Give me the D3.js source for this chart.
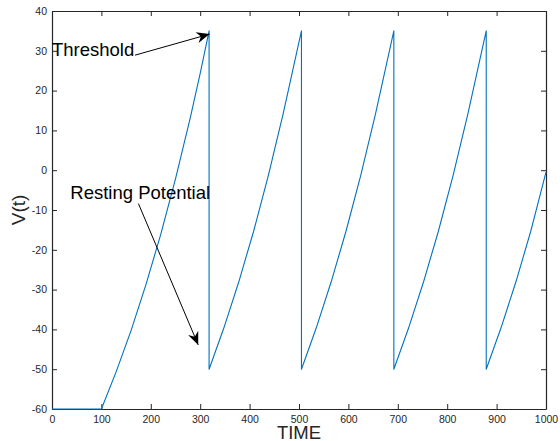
<!DOCTYPE html>
<html>
<head>
<meta charset="utf-8">
<script src="https://cdn.jsdelivr.net/npm/d3@7"></script>
<style>
  body { margin: 0; background: #fff; }
  text { font-family: "Liberation Sans", Arial, sans-serif; }
</style>
</head>
<body>
<div id="chart"></div>
<script>
var width = 560,
    height = 441,
    margin = {top: 11, right: 14, bottom: 32, left: 52};

// membrane potential (time, volts)
var time = [0, 100, 130, 160, 190, 220, 250, 280, 300, 318,
            318, 348, 378, 408, 438, 468, 490, 505,
            505, 535, 565, 595, 625, 655, 677, 692,
            692, 722, 752, 782, 812, 842, 864, 879,
            879, 909, 939, 969, 1000];
var voltage = [-60, -60, -50.6, -40.3, -28.8, -16.2, -2.2, 13.2, 24.3, 35,
               -50, -39.6, -28.1, -15.4, -1.3, 14.2, 26.6, 35,
               -50, -39.6, -28.1, -15.4, -1.3, 14.2, 26.6, 35,
               -50, -39.6, -28.1, -15.4, -1.3, 14.2, 26.6, 35,
               -50, -39.6, -28.1, -15.4, -0.5];

var xTicks = [0, 100, 200, 300, 400, 500, 600, 700, 800, 900, 1000];
var yTicks = [-60, -50, -40, -30, -20, -10, 0, 10, 20, 30, 40];

// annotation arrows: text anchor and arrow tip in data units
var annotations = [
  {label: "Threshold", tx: 0, ty: 28.6, from: [168, 28.9], to: [319, 34.2]},
  {label: "Resting Potential", tx: 37, ty: -7.3, from: [175, -8.4], to: [296, -43.9]}
];

var x = d3.scaleLinear().domain([0, 1000]).range([margin.left, width - margin.right]);
var y = d3.scaleLinear().domain([-60, 40]).range([height - margin.bottom, margin.top]);

var svg = d3.select("#chart").append("svg")
  .attr("width", width)
  .attr("height", height);

var axisColor = "#262626";

svg.append("defs").append("marker")
  .attr("id", "head")
  .attr("markerUnits", "userSpaceOnUse")
  .attr("viewBox", "-14 -6 15 12")
  .attr("refX", 0)
  .attr("refY", 0)
  .attr("markerWidth", 15)
  .attr("markerHeight", 12)
  .attr("orient", "auto")
  .append("path")
  .attr("d", "M0,0 L-13,-5.5 L-9,0 L-13,5.5 Z")
  .attr("fill", "#000");

// ticks point inward on all four sides (box on)
var gx = svg.append("g")
  .attr("transform", "translate(0," + y(-60) + ")")
  .call(d3.axisBottom(x).tickValues(xTicks).tickSizeInner(-5).tickSizeOuter(0)
    .tickPadding(6.5).tickFormat(d3.format("d")));
var gxTop = svg.append("g")
  .attr("transform", "translate(0," + y(40) + ")")
  .call(d3.axisTop(x).tickValues(xTicks).tickSizeInner(-5).tickSizeOuter(0).tickFormat(""));
var gy = svg.append("g")
  .attr("transform", "translate(" + x(0) + ",0)")
  .call(d3.axisLeft(y).tickValues(yTicks).tickSizeInner(-5).tickSizeOuter(0).tickPadding(5));
var gyRight = svg.append("g")
  .attr("transform", "translate(" + x(1000) + ",0)")
  .call(d3.axisRight(y).tickValues(yTicks).tickSizeInner(-5).tickSizeOuter(0).tickFormat(""));

[gx, gxTop, gy, gyRight].forEach(function(g) {
  g.selectAll(".domain").attr("stroke", axisColor).attr("stroke-width", 1.2);
  g.selectAll(".tick line").attr("stroke", axisColor).attr("stroke-width", 1);
  g.selectAll(".tick text")
    .attr("fill", axisColor)
    .style("font-size", "10.5px")
    .style("font-family", "'Liberation Sans', Arial, sans-serif");
});
gy.selectAll(".tick text").text(function(d) { return d; });

var line = d3.line()
  .x(function(d) { return x(d[0]); })
  .y(function(d) { return y(d[1]); });

svg.append("path")
  .datum(d3.zip(time, voltage))
  .attr("d", line)
  .attr("fill", "none")
  .attr("stroke", "#0072BD")
  .attr("stroke-width", 1.1)
  .attr("stroke-linejoin", "round");

// axis labels
svg.append("text")
  .attr("x", (x(0) + x(1000)) / 2)
  .attr("y", 439)
  .attr("text-anchor", "middle")
  .attr("fill", axisColor)
  .style("font-size", "18.5px")
  .text("TIME");

svg.append("text")
  .attr("transform", "translate(25," + ((y(-60) + y(40)) / 2) + ") rotate(-90)")
  .attr("text-anchor", "middle")
  .attr("fill", axisColor)
  .style("font-size", "19px")
  .text("V(t)");

// annotations
annotations.forEach(function(a) {
  svg.append("line")
    .attr("x1", x(a.from[0])).attr("y1", y(a.from[1]))
    .attr("x2", x(a.to[0])).attr("y2", y(a.to[1]))
    .attr("stroke", "#000")
    .attr("stroke-width", 1)
    .attr("marker-end", "url(#head)");
  svg.append("text")
    .attr("x", x(a.tx))
    .attr("y", y(a.ty))
    .attr("fill", "#000")
    .style("font-size", "18.5px")
    .text(a.label);
});
</script>
</body>
</html>
